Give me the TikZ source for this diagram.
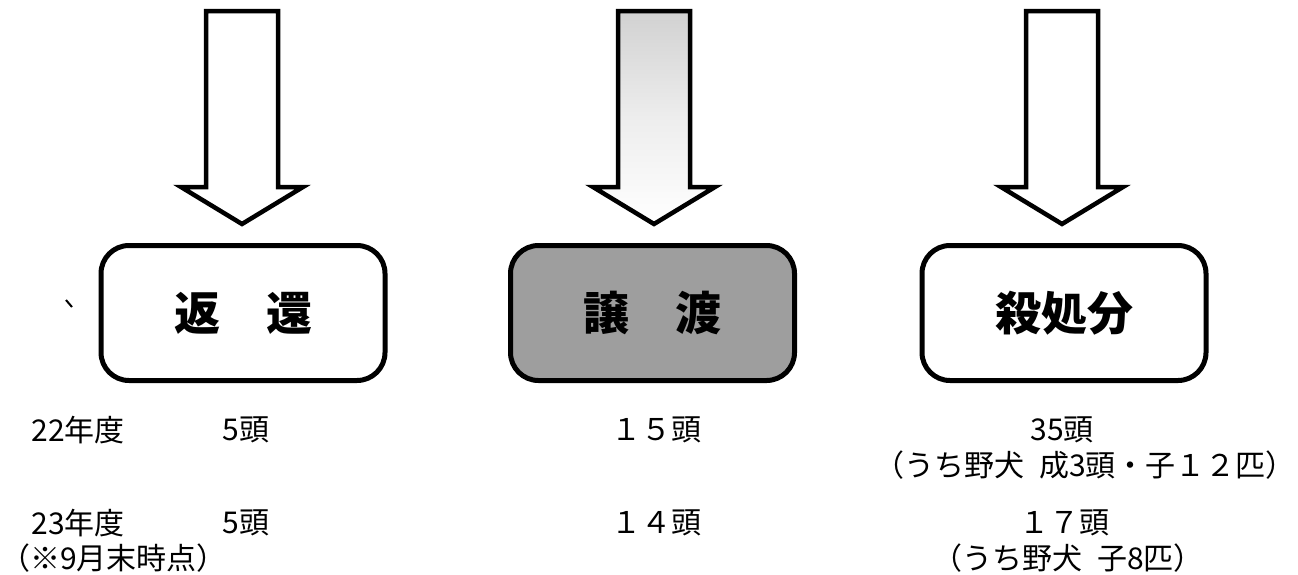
\documentclass[tikz,border=0pt]{standalone}
\usepackage{fontspec}
\newfontfamily\jp{Noto Sans CJK JP}
\newcommand\mkdownarrow[3]{%
  \draw[blockarrow,#2] ({#1-36},11) -- ({#1+36},11) -- ({#1+36},187) -- ({#1+61},187)
     -- (#1,224) coordinate (#3) -- ({#1-61},187) -- ({#1-36},187) -- cycle;}
\begin{document}
\begin{tikzpicture}[x=1pt,y=-1pt,
  box/.style={draw=black, line width=5pt, rounded corners=28pt,
    minimum width=284pt, minimum height=135pt, inner sep=0pt,
    font=\jp\bfseries\fontsize{46}{50}\selectfont},
  blockarrow/.style={draw=black, line width=4.5pt, line join=miter, miter limit=10, fill=white},
  lbl/.style={font=\jp\fontsize{30}{32}\selectfont, inner sep=0pt, anchor=center}]
\useasboundingbox (0,0) rectangle (1298,574);
% block arrows
\mkdownarrow{242}{}{a1}
\mkdownarrow{654}{top color=black!18, bottom color=white, middle color=black!7}{a2}
\mkdownarrow{1062}{}{a3}
% boxes
\node[box] (b1) at (243,313) {返　還};
\node[box, fill=black!38] (b2) at (652.5,313) {譲　渡};
\node[box] (b3) at (1064,313) {殺処分};
% small tick mark
\coordinate (m1) at (66,300);
\coordinate (m2) at (72,307);
\draw[line width=2pt] (m1) -- (m2);
% figures
\node[lbl] (y22) at (78,430) {22年度};
\node[lbl] (r22) at (246,430) {5頭};
\node[lbl] (j22) at (656,430) {１５頭};
\node[lbl] (k22) at (1062,430) {35頭};
\node[lbl] (k22d) at (1085,465) {（うち野犬\hspace{0.5em}成3頭・子１２匹）};
\node[lbl] (y23) at (78,523) {23年度};
\node[lbl, anchor=west] (y23n) at (0,558) {（※9月末時点）};
\node[lbl] (r23) at (246,523) {5頭};
\node[lbl] (j23) at (656,523) {１４頭};
\node[lbl] (k23) at (1064,523) {１７頭};
\node[lbl] (k23d) at (1068,558) {（うち野犬\hspace{0.5em}子8匹）};
\end{tikzpicture}
\end{document}
